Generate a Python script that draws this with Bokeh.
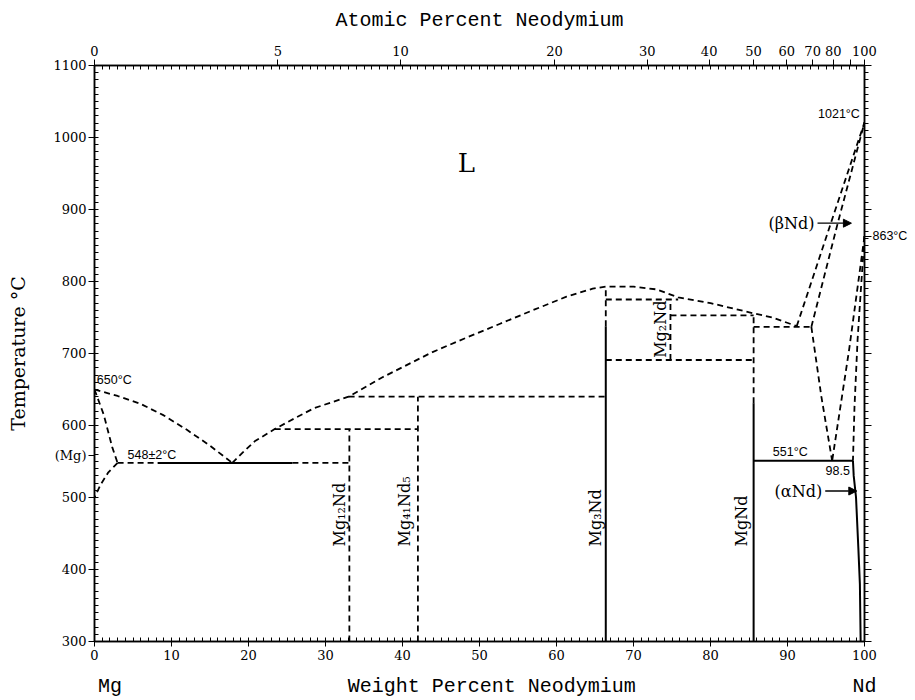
import math
from bokeh.plotting import figure
from bokeh.models import (LinearAxis, FixedTicker, Label, Arrow, NormalHead,
                          Range1d, CustomJSTickFormatter)
from bokeh.embed import file_html
from bokeh.resources import INLINE

# ---------------- data (wt% Nd, temperature degC) ----------------
M_ND, M_MG = 144.24, 24.305
at_ticks = [0, 5, 10, 20, 30, 40, 50, 60, 70, 80, 90, 100]

# (Mg) side
liq_mg_x = [0, 3, 6, 9, 12, 15, 17.9]
liq_mg_y = [650, 641, 630, 614, 594, 572, 548]
sol_mg_x = [0, 1.2, 2.3, 3.0]
sol_mg_y = [650, 615, 570, 548]
solv_mg_x = [3.0, 1.8, 0.8, 0]
solv_mg_y = [548, 535, 518, 500]

# main liquidus
liq_x = [17.9, 19.2, 20.8, 23.4, 26.0, 28.5, 33.0, 37.4, 43.9, 48.3, 52.6, 56.9,
         61.3, 64.7, 66.4, 70.0, 73.0, 75.8, 80.0, 85.5, 88.0, 91.2]
liq_y = [548, 562, 578, 595, 610, 624, 640, 667, 702, 722, 741, 760,
         779, 790, 793, 793, 789, 778, 770, 756, 750, 738]

# Nd side
bnd_liq_x = [91.2, 95.6, 100]
bnd_liq_y = [738, 880, 1021]
bnd_sol_x = [93.1, 96.5, 100]
bnd_sol_y = [737, 880, 1021]
bnd_solv_x = [93.1, 94.4, 95.8]
bnd_solv_y = [737, 640, 551]
bnd_low_x = [100, 98.0, 95.8]
bnd_low_y = [863, 705, 551]
and_up_x = [100, 99.6, 99.1, 98.7, 98.5]
and_up_y = [863, 800, 719, 626, 551]
and_solv_x = [98.5, 98.6, 98.9, 99.2, 99.4, 99.5]
and_solv_y = [551, 530, 500, 430, 380, 300]

# invariant lines (x0, x1, T)
h_dashed = [(3.0, 8.2, 548), (25.7, 33.1, 548), (23.4, 42.0, 595), (33.0, 66.4, 640),
            (66.4, 75.8, 775), (74.8, 85.6, 753), (66.4, 85.6, 691), (85.6, 93.1, 737)]
h_solid = [(8.2, 25.7, 548), (85.6, 98.5, 551)]
# compounds (x, T0, T1)
v_dashed = [(33.1, 300, 595), (42.0, 300, 640), (66.4, 738, 793), (74.8, 691, 775),
            (85.6, 631, 753)]
v_solid = [(66.4, 300, 738), (85.6, 300, 631)]

compounds = ["Mg₁₂Nd", "Mg₄₁Nd₅", "Mg₃Nd", "Mg₂Nd", "MgNd"]
compound_x = [31.8, 40.3, 65.1, 73.5, 84.0]
compound_T = [432, 432, 432, 694, 432]

mg_melt_label_T = 558      # "(Mg)" marker on the temperature axis
nd_transf_T = 863          # "863°C" marker on the right axis

# ---------------- figure ----------------
p = figure(width=912, height=700, x_range=Range1d(0, 100), y_range=Range1d(300, 1100),
           output_backend="svg", toolbar_location=None, title=None,
           min_border_left=94, min_border_right=48, min_border_top=65,
           min_border_bottom=58)
p.xgrid.visible = False
p.ygrid.visible = False
p.outline_line_color = "black"
p.outline_line_width = 1.5
p.background_fill_color = "white"
p.border_fill_color = "white"

TICK_FONT = "DejaVu Serif"
TITLE_FONT = "Liberation Mono"
BLACK = "black"

xa = p.xaxis[0]
xa.ticker = FixedTicker(ticks=list(range(0, 101, 10)), minor_ticks=list(range(0, 101)))
xa.major_tick_out = 5
xa.major_tick_in = 0
xa.minor_tick_in = 4
xa.minor_tick_out = 0
xa.major_label_standoff = 3
xa.major_label_text_font = TICK_FONT
xa.major_label_text_font_size = "13px"
xa.major_label_text_color = BLACK
xa.axis_line_width = 1.5

# second bottom axis: element names and axis title on one row
xb = LinearAxis(
    ticker=FixedTicker(ticks=[2.0, 51.6, 100.0], minor_ticks=[]),
    formatter=CustomJSTickFormatter(code="""
        if (tick < 10) return "Mg";
        if (tick > 90) return "Nd";
        return "Weight Percent Neodymium";
    """),
    major_tick_out=0, major_tick_in=0, axis_line_color=None,
    major_label_standoff=12, major_label_text_font=TITLE_FONT,
    major_label_text_font_size="20px", major_label_text_color=BLACK)
p.add_layout(xb, "below")

ya = p.yaxis[0]
ya.ticker = FixedTicker(ticks=list(range(300, 1101, 100)) + [mg_melt_label_T],
                        minor_ticks=list(range(300, 1101, 10)))
ya.formatter = CustomJSTickFormatter(code="""
    if (Math.abs(tick - 558) < 0.5) return "(Mg)";
    return String(Math.round(tick));
""")
ya.major_tick_out = 6
ya.major_tick_in = 0
ya.minor_tick_in = 4
ya.minor_tick_out = 0
ya.major_label_standoff = 2
ya.major_label_text_font = TICK_FONT
ya.major_label_text_font_size = "13px"
ya.major_label_text_color = BLACK
ya.axis_line_width = 1.5
ya.axis_label = "Temperature °C"
ya.axis_label_text_font = "DejaVu Serif"
ya.axis_label_text_font_size = "19px"
ya.axis_label_text_font_style = "normal"
ya.axis_label_text_color = BLACK
ya.axis_label_standoff = 21

top_ticks = [100.0 * a * M_ND / (a * M_ND + (100 - a) * M_MG) for a in at_ticks]
top = LinearAxis(
    ticker=FixedTicker(ticks=top_ticks, minor_ticks=list(range(0, 101))),
    formatter=CustomJSTickFormatter(code="""
        const a = (tick/144.24)/((tick/144.24)+((100-tick)/24.305))*100;
        const r = Math.round(a);
        return r == 90 ? "" : String(r);
    """),
    major_tick_out=6, major_tick_in=0, minor_tick_in=4, minor_tick_out=0,
    major_label_standoff=4, major_label_text_font=TICK_FONT,
    major_label_text_font_size="13px", major_label_text_color=BLACK,
    axis_line_width=1.5,
    axis_label="Atomic Percent Neodymium", axis_label_text_font=TITLE_FONT,
    axis_label_text_font_size="20px", axis_label_text_font_style="normal",
    axis_label_text_color=BLACK, axis_label_standoff=11)
p.add_layout(top, "above")

right = LinearAxis(
    ticker=FixedTicker(ticks=list(range(300, 1101, 100)) + [nd_transf_T],
                       minor_ticks=list(range(300, 1101, 10))),
    formatter=CustomJSTickFormatter(code='return Math.abs(tick - 863) < 0.5 ? "863°C" : "";'),
    major_tick_out=7, major_tick_in=0, minor_tick_out=4, minor_tick_in=0,
    major_label_standoff=1, axis_line_width=1.5,
    major_label_text_font="Liberation Sans", major_label_text_font_size="12.5px",
    major_label_text_color=BLACK)
p.add_layout(right, "right")

# ---------------- lines ----------------
DASH = "6 4"
LW = 1.8
for xs, ys in [(liq_mg_x, liq_mg_y), (sol_mg_x, sol_mg_y), (solv_mg_x, solv_mg_y),
               (liq_x, liq_y), (bnd_liq_x, bnd_liq_y), (bnd_sol_x, bnd_sol_y),
               (bnd_solv_x, bnd_solv_y), (bnd_low_x, bnd_low_y), (and_up_x, and_up_y)]:
    p.line(xs, ys, line_color=BLACK, line_width=LW, line_dash=DASH)
p.line(and_solv_x, and_solv_y, line_color=BLACK, line_width=2)

p.multi_line([[a, b] for a, b, t in h_dashed], [[t, t] for a, b, t in h_dashed],
             line_color=BLACK, line_width=LW, line_dash=DASH)
p.multi_line([[a, b] for a, b, t in h_solid], [[t, t] for a, b, t in h_solid],
             line_color=BLACK, line_width=2)
p.multi_line([[x, x] for x, t0, t1 in v_dashed], [[t0, t1] for x, t0, t1 in v_dashed],
             line_color=BLACK, line_width=LW, line_dash=DASH)
p.multi_line([[x, x] for x, t0, t1 in v_solid], [[t0, t1] for x, t0, t1 in v_solid],
             line_color=BLACK, line_width=2)

# ---------------- labels ----------------
SERIF = "DejaVu Serif"
SANS = "Liberation Sans"

for txt, x, t in zip(compounds, compound_x, compound_T):
    p.add_layout(Label(x=x, y=t, text=txt, angle=math.pi / 2, text_align="left",
                       text_baseline="middle", text_font=SERIF, text_font_size="16px",
                       text_color=BLACK))

def lab(x, y, text, align="left", base="middle", font=SANS, size="12.5px"):
    p.add_layout(Label(x=x, y=y, text=text, text_align=align, text_baseline=base,
                       text_font=font, text_font_size=size, text_color=BLACK))

lab(48.3, 964, "L", align="center", font=SERIF, size="26px")
lab(0.3, 663, "650°C")
lab(4.3, 549, "548±2°C", base="bottom")
lab(88.1, 553, "551°C", base="bottom")
lab(98.1, 538, "98.5", align="right")
lab(99.4, 1033, "1021°C", align="right")
lab(93.5, 881, "(βNd)", align="right", font=SERIF, size="16px")
lab(94.5, 509, "(αNd)", align="right", font=SERIF, size="16px")

head = dict(size=8, fill_color=BLACK, line_color=BLACK)
p.add_layout(Arrow(x_start=93.9, y_start=881, x_end=98.3, y_end=881,
                   end=NormalHead(**head), line_width=1.3))
p.add_layout(Arrow(x_start=94.9, y_start=509, x_end=99.0, y_end=509,
                   end=NormalHead(**head), line_width=1.3))

open("out.html", "w").write(file_html(p, INLINE))
